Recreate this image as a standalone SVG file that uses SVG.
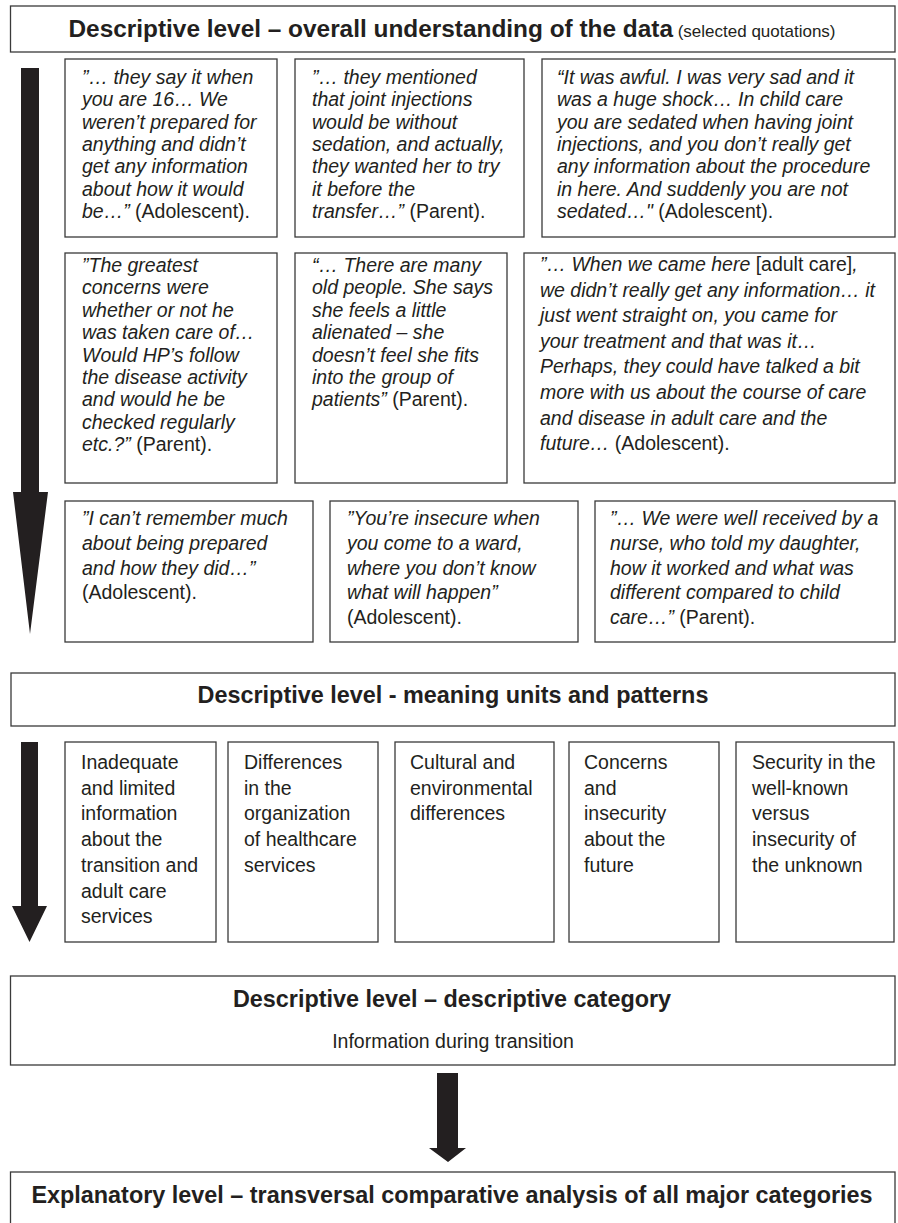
<svg xmlns="http://www.w3.org/2000/svg" width="898" height="1223" viewBox="0 0 898 1223">
<style>
.box{fill:#fff;stroke:#3a3a3a;stroke-width:1.3}
text{font-family:"Liberation Sans",Arial,sans-serif;fill:#231f20}
.h{font-size:23.4px;font-weight:bold}
.h1{font-size:24.4px;font-weight:bold}
.sub{font-size:17px}
.q{font-size:19.5px;font-style:italic}
.r{font-style:normal}
.c{font-size:19.5px}
.arrow{fill:#231f20}
</style>
<rect width="898" height="1223" fill="#fff"/>
<g id="connectors">
<path class="arrow" d="M21,68 H39 V492 H48 L30,634 L13,492 H21 Z"/>
<path class="arrow" d="M21,742 H38 V906 H47 L29.5,942 L12,906 H21 Z"/>
<path class="arrow" d="M437,1073 H458 V1148 H466 L448,1162 L429,1148 H437 Z"/>
</g>
<g id="header-overall">
<rect class="box" x="10.5" y="6" width="884.5" height="46"/>
<text x="452" y="37" text-anchor="middle"><tspan class="h1">Descriptive level – overall understanding of the data</tspan><tspan class="sub"> (selected quotations)</tspan></text>
</g>
<g id="quote-1">
<rect class="box" x="65" y="59" width="212" height="178"/>
<text class="q"><tspan x="82" y="84">”… they say it when</tspan><tspan x="82" dy="22.3">you are 16… We</tspan><tspan x="82" dy="22.3">weren’t prepared for</tspan><tspan x="82" dy="22.3">anything and didn’t</tspan><tspan x="82" dy="22.3">get any information</tspan><tspan x="82" dy="22.3">about how it would</tspan><tspan x="82" dy="22.3">be…”<tspan class="r"> (Adolescent).</tspan></tspan></text>
</g>
<g id="quote-2">
<rect class="box" x="295" y="59" width="229" height="178"/>
<text class="q"><tspan x="312" y="84">”… they mentioned</tspan><tspan x="312" dy="22.3">that joint injections</tspan><tspan x="312" dy="22.3">would be without</tspan><tspan x="312" dy="22.3">sedation, and actually,</tspan><tspan x="312" dy="22.3">they wanted her to try</tspan><tspan x="312" dy="22.3">it before the</tspan><tspan x="312" dy="22.3">transfer…”<tspan class="r"> (Parent).</tspan></tspan></text>
</g>
<g id="quote-3">
<rect class="box" x="542" y="59" width="353" height="178"/>
<text class="q"><tspan x="557" y="84">“It was awful. I was very sad and it</tspan><tspan x="557" dy="22.3">was a huge shock… In child care</tspan><tspan x="557" dy="22.3">you are sedated when having joint</tspan><tspan x="557" dy="22.3">injections, and you don’t really get</tspan><tspan x="557" dy="22.3">any information about the procedure</tspan><tspan x="557" dy="22.3">in here. And suddenly you are not</tspan><tspan x="557" dy="22.3">sedated…"<tspan class="r"> (Adolescent).</tspan></tspan></text>
</g>
<g id="quote-4">
<rect class="box" x="65" y="253" width="212" height="230"/>
<text class="q"><tspan x="82" y="272">”The greatest</tspan><tspan x="82" dy="22.4">concerns were</tspan><tspan x="82" dy="22.4">whether or not he</tspan><tspan x="82" dy="22.4">was taken care of…</tspan><tspan x="82" dy="22.4">Would HP’s follow</tspan><tspan x="82" dy="22.4">the disease activity</tspan><tspan x="82" dy="22.4">and would he be</tspan><tspan x="82" dy="22.4">checked regularly</tspan><tspan x="82" dy="22.4">etc.?”<tspan class="r"> (Parent).</tspan></tspan></text>
</g>
<g id="quote-5">
<rect class="box" x="295" y="253" width="212" height="230"/>
<text class="q"><tspan x="312" y="272">“… There are many</tspan><tspan x="312" dy="22.4">old people. She says</tspan><tspan x="312" dy="22.4">she feels a little</tspan><tspan x="312" dy="22.4">alienated – she</tspan><tspan x="312" dy="22.4">doesn’t feel she fits</tspan><tspan x="312" dy="22.4">into the group of</tspan><tspan x="312" dy="22.4">patients”<tspan class="r"> (Parent).</tspan></tspan></text>
</g>
<g id="quote-6">
<rect class="box" x="524" y="253" width="371" height="230"/>
<text class="q"><tspan x="540" y="271">”… When we came here <tspan class="r">[adult care]</tspan>,</tspan><tspan x="540" dy="25.6">we didn’t really get any information… it</tspan><tspan x="540" dy="25.6">just went straight on, you came for</tspan><tspan x="540" dy="25.6">your treatment and that was it…</tspan><tspan x="540" dy="25.6">Perhaps, they could have talked a bit</tspan><tspan x="540" dy="25.6">more with us about the course of care</tspan><tspan x="540" dy="25.6">and disease in adult care and the</tspan><tspan x="540" dy="25.6">future…<tspan class="r"> (Adolescent).</tspan></tspan></text>
</g>
<g id="quote-7">
<rect class="box" x="65" y="501" width="248" height="141"/>
<text class="q"><tspan x="82" y="525">”I can’t remember much</tspan><tspan x="82" dy="24.8">about being prepared</tspan><tspan x="82" dy="24.8">and how they did…”</tspan><tspan class="r" x="82" dy="24.8">(Adolescent).</tspan></text>
</g>
<g id="quote-8">
<rect class="box" x="330" y="501" width="248" height="141"/>
<text class="q"><tspan x="347" y="525">”You’re insecure when</tspan><tspan x="347" dy="24.8">you come to a ward,</tspan><tspan x="347" dy="24.8">where you don’t know</tspan><tspan x="347" dy="24.8">what will happen”</tspan><tspan class="r" x="347" dy="24.8">(Adolescent).</tspan></text>
</g>
<g id="quote-9">
<rect class="box" x="595" y="501" width="300" height="141"/>
<text class="q"><tspan x="610" y="525">”… We were well received by a</tspan><tspan x="610" dy="24.8">nurse, who told my daughter,</tspan><tspan x="610" dy="24.8">how it worked and what was</tspan><tspan x="610" dy="24.8">different compared to child</tspan><tspan x="610" dy="24.8">care…”<tspan class="r"> (Parent).</tspan></tspan></text>
</g>
<g id="header-meaning">
<rect class="box" x="11" y="673" width="884" height="53"/>
<text class="h" x="453" y="703" text-anchor="middle">Descriptive level - meaning units and patterns</text>
</g>
<g id="unit-1">
<rect class="box" x="65" y="742" width="151" height="200"/>
<text class="c"><tspan x="81" y="769">Inadequate</tspan><tspan x="81" dy="25.7">and limited</tspan><tspan x="81" dy="25.7">information</tspan><tspan x="81" dy="25.7">about the</tspan><tspan x="81" dy="25.7">transition and</tspan><tspan x="81" dy="25.7">adult care</tspan><tspan x="81" dy="25.7">services</tspan></text>
</g>
<g id="unit-2">
<rect class="box" x="228" y="742" width="150" height="200"/>
<text class="c"><tspan x="244" y="769">Differences</tspan><tspan x="244" dy="25.7">in the</tspan><tspan x="244" dy="25.7">organization</tspan><tspan x="244" dy="25.7">of healthcare</tspan><tspan x="244" dy="25.7">services</tspan></text>
</g>
<g id="unit-3">
<rect class="box" x="395" y="742" width="159" height="200"/>
<text class="c"><tspan x="410" y="769">Cultural and</tspan><tspan x="410" dy="25.7">environmental</tspan><tspan x="410" dy="25.7">differences</tspan></text>
</g>
<g id="unit-4">
<rect class="box" x="569" y="742" width="150" height="200"/>
<text class="c"><tspan x="584" y="769">Concerns</tspan><tspan x="584" dy="25.7">and</tspan><tspan x="584" dy="25.7">insecurity</tspan><tspan x="584" dy="25.7">about the</tspan><tspan x="584" dy="25.7">future</tspan></text>
</g>
<g id="unit-5">
<rect class="box" x="736" y="742" width="158" height="200"/>
<text class="c"><tspan x="752" y="769">Security in the</tspan><tspan x="752" dy="25.7">well-known</tspan><tspan x="752" dy="25.7">versus</tspan><tspan x="752" dy="25.7">insecurity of</tspan><tspan x="752" dy="25.7">the unknown</tspan></text>
</g>
<g id="category">
<rect class="box" x="10.5" y="976" width="884.5" height="89"/>
<text class="h" x="452" y="1007" text-anchor="middle">Descriptive level – descriptive category</text>
<text class="c" x="453" y="1048" text-anchor="middle">Information during transition</text>
</g>
<g id="explanatory">
<rect class="box" x="10.5" y="1172" width="884.5" height="60"/>
<text class="h" x="452" y="1203" text-anchor="middle">Explanatory level – transversal comparative analysis of all major categories</text>
</g>
</svg>
